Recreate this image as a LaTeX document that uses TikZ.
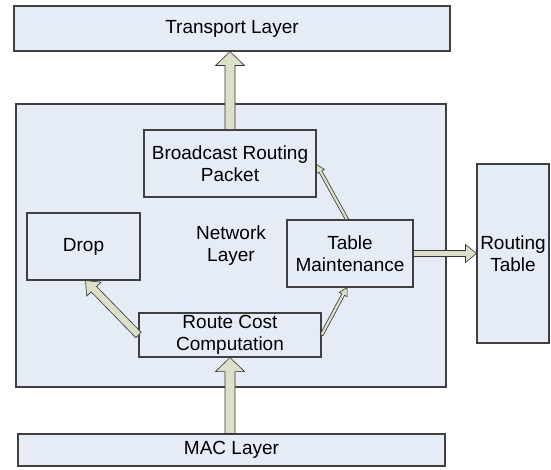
\documentclass[tikz,border=0pt]{standalone}
\usepackage{fontspec}
\setmainfont{Liberation Sans}
\usetikzlibrary{calc}

\definecolor{boxfill}{RGB}{230,236,246}
\definecolor{boxline}{RGB}{64,64,64}
\definecolor{arrowfill}{RGB}{221,224,200}

% Block arrow from #1 (tail) to #2 (tip):
% #3 shaft half-width, #4 head half-width, #5 head length
\newcommand\blockarr[5]{%
  \coordinate (ba-t) at (#1);
  \coordinate (ba-h) at ($(#2)!#5!(#1)$);
  \draw[blockarrow]
    ($(ba-t)!#3!90:(#2)$) -- ($(ba-h)!#3!90:(#2)$) -- ($(ba-h)!#4!90:(#2)$)
    -- (#2)
    -- ($(ba-h)!#4!-90:(#2)$) -- ($(ba-h)!#3!-90:(#2)$) -- ($(ba-t)!#3!-90:(#2)$)
    -- cycle;}

\tikzset{
  box/.style={draw=boxline, line width=1.1pt, fill=boxfill, inner sep=0pt,
    align=center, font=\fontsize{19}{22}\selectfont},
  blockarrow/.style={draw=black!80, line width=0.6pt, fill=arrowfill, line join=miter}
}

\begin{document}
\begin{tikzpicture}[x=1pt, y=-1pt]
\useasboundingbox (0,0) rectangle (551,470);

% layers and processing blocks
\node[box, minimum width=436pt, minimum height=45pt]  (tp)   at (232,28.5)  {Transport Layer};
\node[box, minimum width=430pt, minimum height=283pt] (net)  at (231,245.5) {Network\\Layer};
\node[box, minimum width=172pt, minimum height=67pt]  (br)   at (230,163.5) {Broadcast Routing\\Packet};
\node[box, minimum width=113pt, minimum height=67pt]  (drop) at (83.5,246.5) {Drop};
\node[box, minimum width=126pt, minimum height=67pt]  (tm)   at (350,253.5) {Table\\Maintenance};
\node[box, minimum width=182pt, minimum height=44pt]  (rc)   at (230,335)   {Route Cost\\Computation};
\node[box, minimum width=72pt,  minimum height=179pt] (rt)   at (513,253.5) {Routing\\Table};
\node[box, minimum width=427pt, minimum height=32pt]  (mac)  at (231.5,450) {MAC Layer};

% connector end points
\coordinate (tpin)  at (tp.south -| br.north);
\coordinate (macout) at (mac.north -| rc.south);
\coordinate (rtin)  at (tm.east -| rt.west);
\coordinate (tmin)  at ($(tm.south)+(-3,0)$);
\coordinate (tmout) at ($(tm.north)+(-3,0)$);
\coordinate (brin)  at ($(br.east)+(0,1)$);
\coordinate (dropin) at ($(drop.south)+(2,0)$);

% connectors
\blockarr{br.north}{tpin}{5pt}{14.5pt}{14pt}
\blockarr{macout}{rc.south}{5pt}{14.5pt}{14pt}
\blockarr{tm.east}{rtin}{3pt}{9pt}{11pt}
\blockarr{rc.west}{dropin}{3.8pt}{10pt}{12pt}
\blockarr{rc.east}{tmin}{1.6pt}{4.5pt}{8pt}
\blockarr{tmout}{brin}{1.6pt}{4.5pt}{8pt}
\end{tikzpicture}
\end{document}
